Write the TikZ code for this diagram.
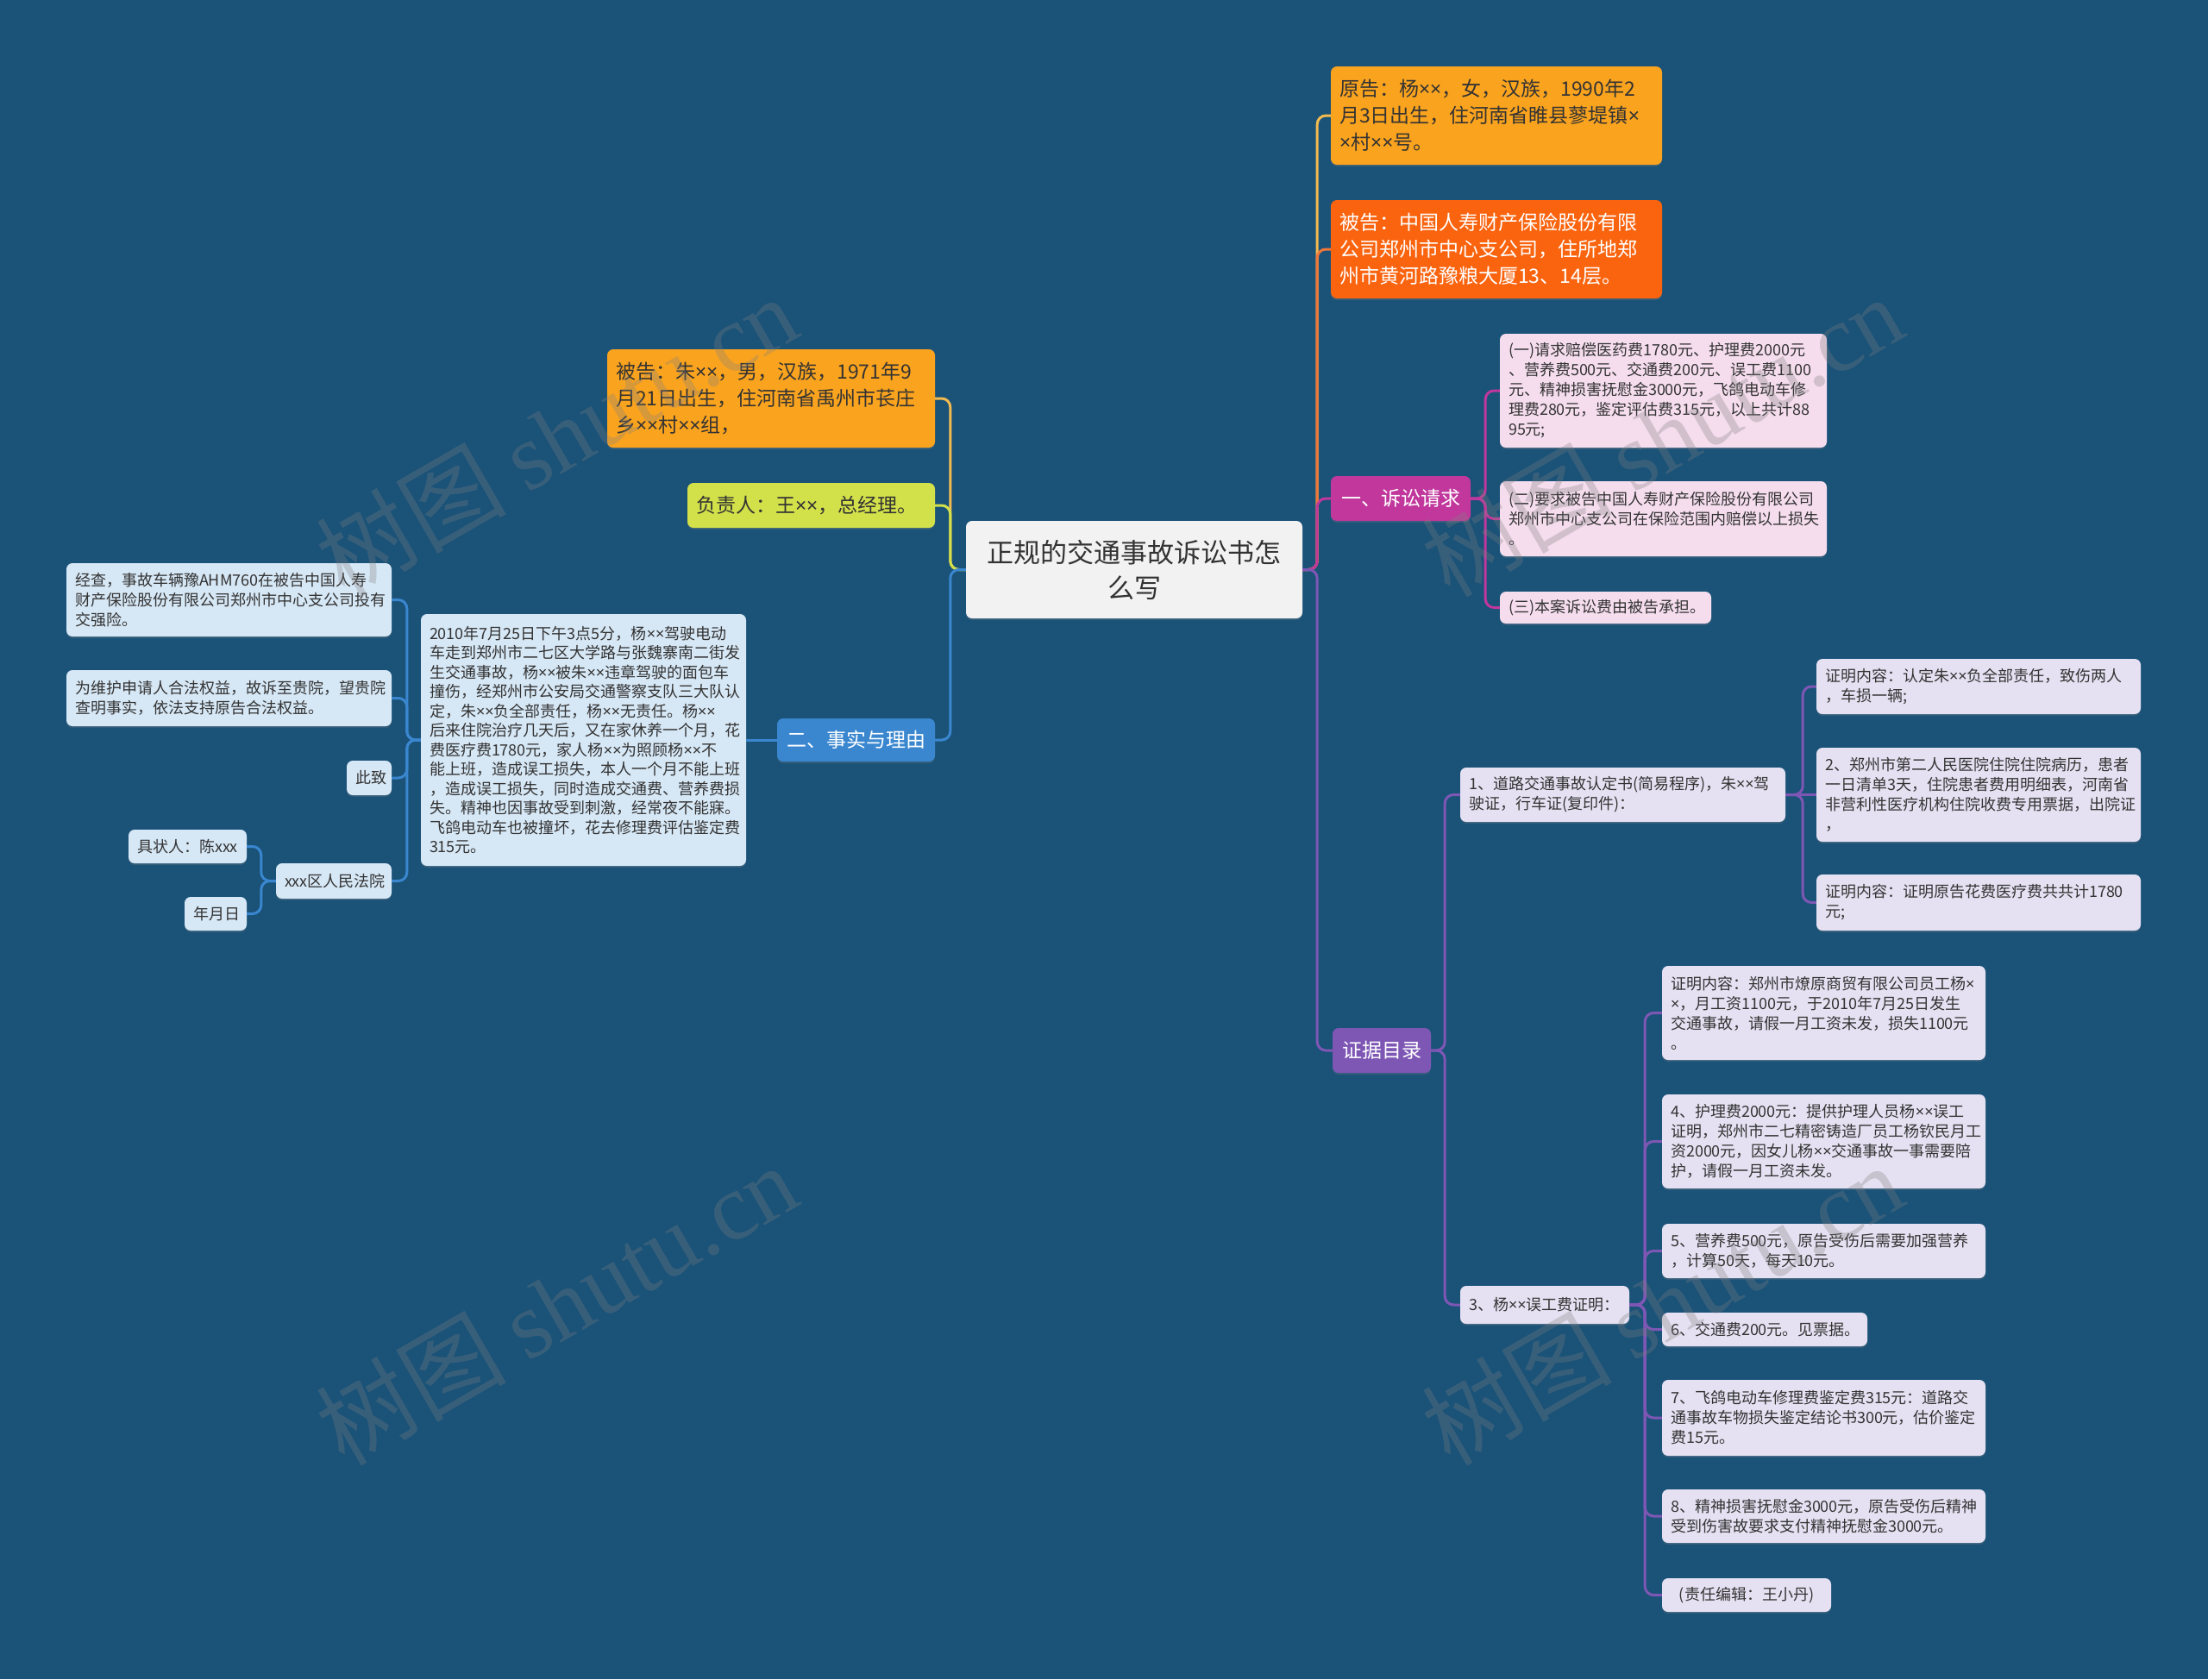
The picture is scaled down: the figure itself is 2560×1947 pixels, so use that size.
\documentclass[tikz,border=0pt]{standalone}
\usepackage{fontspec}
\newfontfamily\cjk{Noto Sans CJK SC}
\newfontfamily\lsans{Noto Sans}
\newfontfamily\wmserif{Liberation Serif}
\newcommand\X{{\lsans ×}}
\usetikzlibrary{shadows}
\definecolor{bg}{RGB}{26,82,120}
\definecolor{rootfill}{RGB}{242,242,242}
\definecolor{txt}{RGB}{51,51,51}
\definecolor{amber}{RGB}{250,163,30}
\definecolor{orangered}{RGB}{250,100,15}
\definecolor{ygreen}{RGB}{210,224,74}
\definecolor{magenta2}{RGB}{193,55,156}
\definecolor{purple2}{RGB}{126,87,181}
\definecolor{blue2}{RGB}{58,135,208}
\definecolor{pink2}{RGB}{245,221,238}
\definecolor{lav}{RGB}{229,225,242}
\definecolor{lblue}{RGB}{214,231,245}
\definecolor{camber}{RGB}{242,186,80}
\definecolor{corange}{RGB}{240,118,58}
\begin{document}
\begin{tikzpicture}[x=1pt,y=-1pt,
  box/.style={rounded corners=7pt, inner xsep=10pt, inner ysep=3pt, align=left, anchor=center,
    drop shadow={opacity=0.25, shadow xshift=0pt, shadow yshift=-2pt}},
  bigtxt/.style={box, font=\cjk\fontsize{23}{31}\selectfont},
  smalltxt/.style={box, font=\cjk\fontsize{18}{23}\selectfont, text=txt},
  label/.style={box, align=center, font=\cjk\fontsize{23}{31}\selectfont, text=white},
  con/.style={line width=3pt, rounded corners=10pt},
  wm/.style={text=gray, opacity=0.3, rotate=30, font=\cjk\fontsize{110}{120}\selectfont}
]
\fill[bg] (0,0) rectangle (2560,1947);
\useasboundingbox (0,0) rectangle (2560,1947);

% root
\node[box, fill=rootfill, align=center, text=txt, text width=370pt, minimum height=113pt,
  font=\cjk\fontsize{31}{41}\selectfont] (root) at (1315,660.5) {正规的交通事故诉讼书怎\\么写};

% right side
\node[bigtxt, fill=amber, text=txt, text width=364pt, minimum height=114pt] (yuangao) at (1735,134)
 {原告：杨\X{}\X{}，女，汉族，1990年2\\月3日出生，住河南省睢县蓼堤镇\X{}\\\X{}村\X{}\X{}号。};
\node[bigtxt, fill=orangered, text=white, text width=364pt, minimum height=114pt] (beigaoA) at (1735,289)
 {被告：中国人寿财产保险股份有限\\公司郑州市中心支公司，住所地郑\\州市黄河路豫粮大厦13、14层。};
\node[label, fill=magenta2, text width=142pt, minimum height=52pt] (susong) at (1624,578) {一、诉讼请求};
\node[smalltxt, fill=pink2, text width=359pt, minimum height=132pt] (sA) at (1928.5,453)
 {(一)请求赔偿医药费1780元、护理费2000元\\、营养费500元、交通费200元、误工费1100\\元、精神损害抚慰金3000元，飞鸽电动车修\\理费280元，鉴定评估费315元，以上共计88\\95元;};
\node[smalltxt, fill=pink2, text width=359pt, minimum height=87pt] (sB) at (1928.5,601.5)
 {(二)要求被告中国人寿财产保险股份有限公司\\郑州市中心支公司在保险范围内赔偿以上损失\\。};
\node[smalltxt, fill=pink2, text width=225pt, minimum height=37pt] (sC) at (1861.5,704.5)
 {(三)本案诉讼费由被告承担。};

\node[label, fill=purple2, text width=94pt, minimum height=52pt] (zhengju) at (1602,1218) {证据目录};
\node[smalltxt, fill=lav, text width=357pt, minimum height=63pt] (eA) at (1881.5,921.5)
 {1、道路交通事故认定书(简易程序)，朱\X{}\X{}驾\\驶证，行车证(复印件)：};
\node[smalltxt, fill=lav, text width=356pt, minimum height=64pt] (eAa) at (2294,796)
 {证明内容：认定朱\X{}\X{}负全部责任，致伤两人\\，车损一辆;};
\node[smalltxt, fill=lav, text width=356pt, minimum height=109pt] (eAb) at (2294,921.5)
 {2、郑州市第二人民医院住院住院病历，患者\\一日清单3天，住院患者费用明细表，河南省\\非营利性医疗机构住院收费专用票据，出院证\\，};
\node[smalltxt, fill=lav, text width=356pt, minimum height=65pt] (eAc) at (2294,1046.5)
 {证明内容：证明原告花费医疗费共共计1780\\元;};
\node[smalltxt, fill=lav, text width=176pt, minimum height=44pt] (eB) at (1791,1513)
 {3、杨\X{}\X{}误工费证明：};
\node[smalltxt, fill=lav, text width=355pt, minimum height=109pt] (eBa) at (2114.5,1174.5)
 {证明内容：郑州市燎原商贸有限公司员工杨\X{}\\\X{}，月工资1100元，于2010年7月25日发生\\交通事故，请假一月工资未发，损失1100元\\。};
\node[smalltxt, fill=lav, text width=355pt, minimum height=109pt] (eBb) at (2114.5,1323.5)
 {4、护理费2000元：提供护理人员杨\X{}\X{}误工\\证明，郑州市二七精密铸造厂员工杨钦民月工\\资2000元，因女儿杨\X{}\X{}交通事故一事需要陪\\护，请假一月工资未发。};
\node[smalltxt, fill=lav, text width=355pt, minimum height=63pt] (eBc) at (2114.5,1450.5)
 {5、营养费500元，原告受伤后需要加强营养\\，计算50天，每天10元。};
\node[smalltxt, fill=lav, text width=218pt, minimum height=39pt] (eBd) at (2046,1541.5)
 {6、交通费200元。见票据。};
\node[smalltxt, fill=lav, text width=355pt, minimum height=88pt] (eBe) at (2114.5,1644)
 {7、飞鸽电动车修理费鉴定费315元：道路交\\通事故车物损失鉴定结论书300元，估价鉴定\\费15元。};
\node[smalltxt, fill=lav, text width=355pt, minimum height=62pt] (eBf) at (2114.5,1758)
 {8、精神损害抚慰金3000元，原告受伤后精神\\受到伤害故要求支付精神抚慰金3000元。};
\node[smalltxt, fill=lav, align=center, text width=176pt, minimum height=39pt] (eBg) at (2025,1849.5)
 {(责任编辑：王小丹)};

% left side
\node[bigtxt, fill=amber, text=txt, text width=360pt, minimum height=114pt] (beigaoB) at (894,462)
 {被告：朱\X{}\X{}，男，汉族，1971年9\\月21日出生，住河南省禹州市苌庄\\乡\X{}\X{}村\X{}\X{}组，};
\node[bigtxt, fill=ygreen, text=txt, text width=267pt, minimum height=52pt] (fuze) at (940.5,586)
 {负责人：王\X{}\X{}，总经理。};
\node[label, fill=blue2, text width=163pt, minimum height=50pt] (shishi) at (992.5,858) {二、事实与理由};
\node[smalltxt, fill=lblue, text width=357pt, minimum height=292pt,
  font=\cjk\fontsize{18}{22.5}\selectfont] (story) at (676.5,858)
 {2010年7月25日下午3点5分，杨\X{}\X{}驾驶电动\\车走到郑州市二七区大学路与张魏寨南二街发\\生交通事故，杨\X{}\X{}被朱\X{}\X{}违章驾驶的面包车\\撞伤，经郑州市公安局交通警察支队三大队认\\定，朱\X{}\X{}负全部责任，杨\X{}\X{}无责任。杨\X{}\X{}\\后来住院治疗几天后，又在家休养一个月，花\\费医疗费1780元，家人杨\X{}\X{}为照顾杨\X{}\X{}不\\能上班，造成误工损失，本人一个月不能上班\\，造成误工损失，同时造成交通费、营养费损\\失。精神也因事故受到刺激，经常夜不能寐。\\飞鸽电动车也被撞坏，花去修理费评估鉴定费\\315元。};
\node[smalltxt, fill=lblue, text width=357pt, minimum height=85pt] (jingcha) at (265.5,695.5)
 {经查，事故车辆豫AHM760在被告中国人寿\\财产保险股份有限公司郑州市中心支公司投有\\交强险。};
\node[smalltxt, fill=lblue, text width=357pt, minimum height=65pt] (weihu) at (265.5,809.5)
 {为维护申请人合法权益，故诉至贵院，望贵院\\查明事实，依法支持原告合法权益。};
\node[smalltxt, fill=lblue, align=center, text width=32pt, minimum height=40pt] (cizhi) at (428,902) {此致};
\node[smalltxt, fill=lblue, align=center, text width=114pt, minimum height=41pt] (court) at (387,1021.5) {xxx区人民法院};
\node[smalltxt, fill=lblue, align=center, text width=117pt, minimum height=39pt] (juzhuang) at (217.5,981.5) {具状人：陈xxx};
\node[smalltxt, fill=lblue, align=center, text width=52pt, minimum height=39pt] (nianyue) at (250,1059.5) {年月日};

% connectors right
\draw[con, camber] (root.east) -- ++(17,0) |- (yuangao.west);
\draw[con, corange] (root.east) -- ++(17,0) |- (beigaoA.west);
\draw[con, magenta2] (root.east) -- ++(17,0) |- (susong.west);
\draw[con, purple2] (root.east) -- ++(17,0) |- (zhengju.west);
\foreach \c in {sA,sB,sC}
  \draw[con, magenta2] (susong.east) -- ++(17,0) |- (\c.west);
\foreach \c in {eA,eB}
  \draw[con, purple2] (zhengju.east) -- ++(16,0) |- (\c.west);
\foreach \c in {eAa,eAc}
  \draw[con, purple2] (eA.east) -- ++(20,0) |- (\c.west);
\draw[con, purple2] (eA.east) -- (eAb.west);
\foreach \c in {eBa,eBb,eBc,eBd,eBe,eBf,eBg}
  \draw[con, purple2] (eB.east) -- ++(18,0) |- (\c.west);

% connectors left
\draw[con, camber] (root.west) -- ++(-18,0) |- (beigaoB.east);
\draw[con, ygreen] (root.west) -- ++(-18,0) |- (fuze.east);
\draw[con, blue2] (root.west) -- ++(-18,0) |- (shishi.east);
\draw[con, blue2] (shishi.west) -- (story.east);
\foreach \c in {jingcha,weihu,cizhi,court}
  \draw[con, blue2] (story.west) -- ++(-16,0) |- (\c.east);
\foreach \c in {juzhuang,nianyue}
  \draw[con, blue2] (court.west) -- ++(-17,0) |- (\c.east);

% watermarks
\node[wm] (wm1) at (645,505) {树图 {\wmserif shutu.cn}};
\node[wm] (wm2) at (645,1512) {树图 {\wmserif shutu.cn}};
\node[wm] (wm3) at (1927,505) {树图 {\wmserif shutu.cn}};
\node[wm] (wm4) at (1927,1512) {树图 {\wmserif shutu.cn}};
\end{tikzpicture}
\end{document}
